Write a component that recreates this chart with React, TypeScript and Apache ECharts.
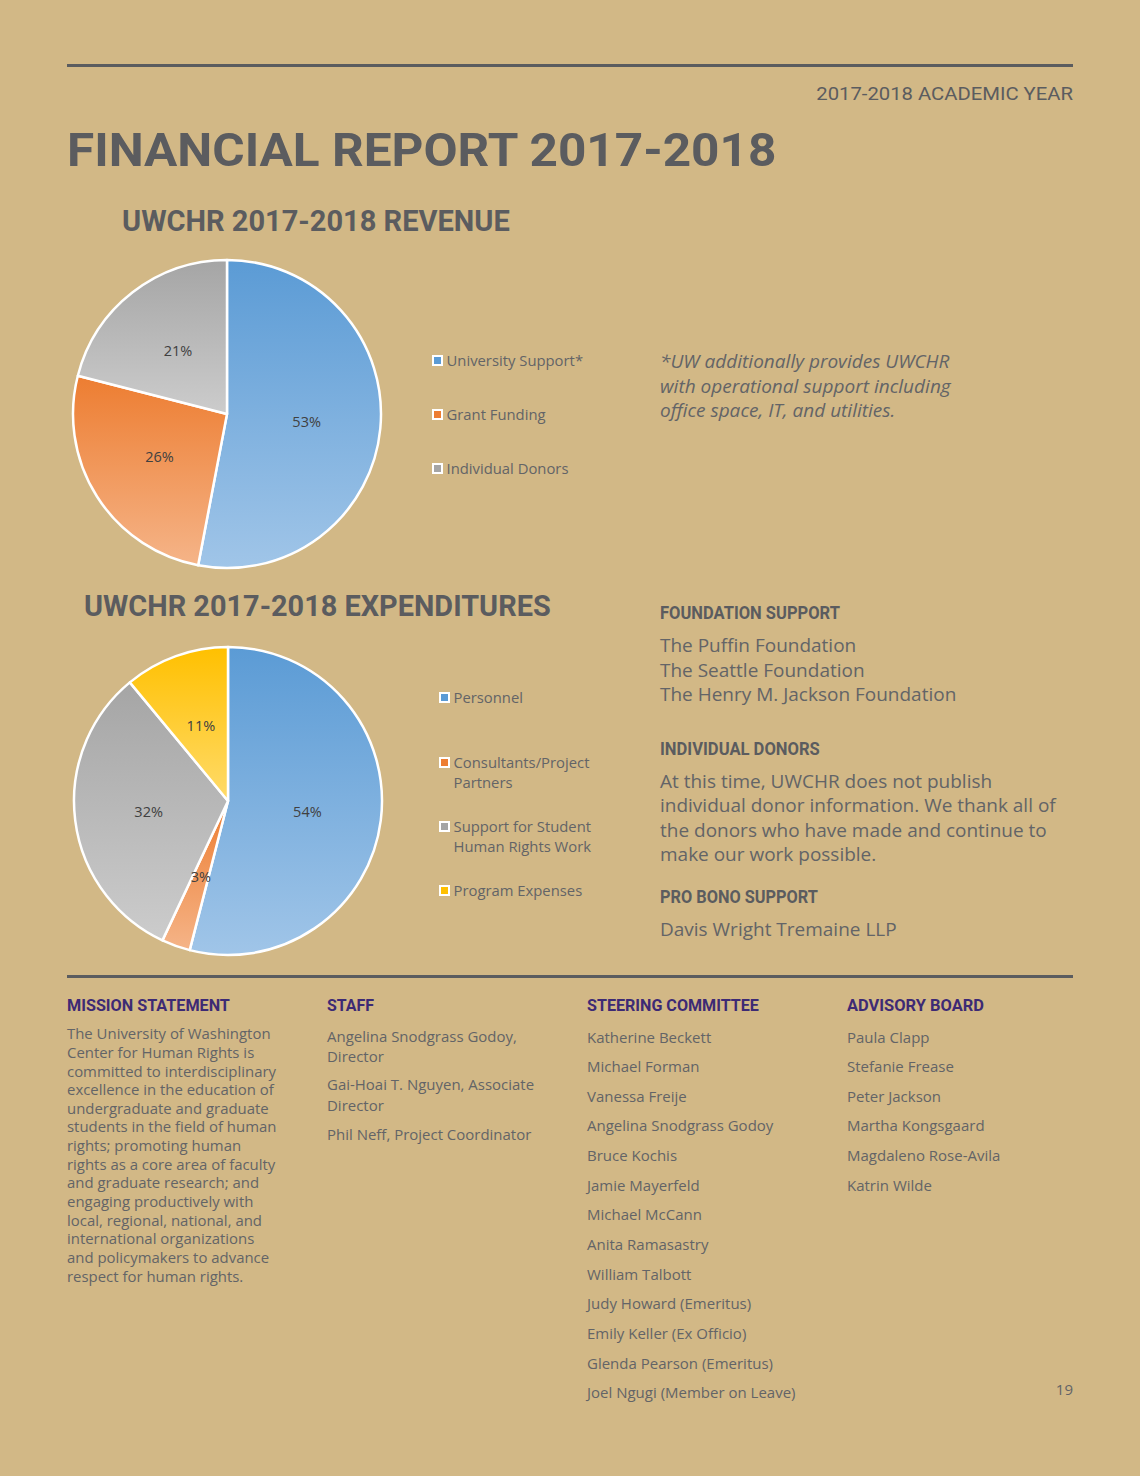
import React, { useEffect, useRef } from 'react';
import * as echarts from 'echarts';

const W = 1140;
const H = 1476;
const BG = '#d2b886';
const HEAD = '#5b5c5f';
const BODY = '#636467';
const PURPLE = '#3d2a74';
const LABEL = '#404040';

const revenueCategories = ['University Support*', 'Grant Funding', 'Individual Donors'];
const revenueValues = [53, 26, 21];
const revenueColors = [
  ['#5b9bd5', '#a0c5e8'],
  ['#ed7d31', '#f5b488'],
  ['#a5a5a5', '#cccccc'],
];

const expenditureCategories = ['Personnel', 'Consultants/Project\nPartners', 'Support for Student\nHuman Rights Work', 'Program Expenses'];
const expenditureValues = [54, 3, 32, 11];
const expenditureColors = [
  ['#5b9bd5', '#a0c5e8'],
  ['#ed7d31', '#f5b488'],
  ['#a5a5a5', '#cccccc'],
  ['#ffc000', '#ffdb6a'],
];

const footnoteLines = ['*UW additionally provides UWCHR', 'with operational support including', 'office space, IT, and utilities.'];
const foundationLines = ['The Puffin Foundation', 'The Seattle Foundation', 'The Henry M. Jackson Foundation'];
const donorLines = ['At this time, UWCHR does not publish', 'individual donor information. We thank all of', 'the donors who have made and continue to', 'make our work possible.'];
const proBonoLines = ['Davis Wright Tremaine LLP'];
const missionLines = [
  'The University of Washington',
  'Center for Human Rights is',
  'committed to interdisciplinary',
  'excellence in the education of',
  'undergraduate and graduate',
  'students in the field of human',
  'rights; promoting human',
  'rights as a core area of faculty',
  'and graduate research; and',
  'engaging productively with',
  'local, regional, national, and',
  'international organizations',
  'and policymakers to advance',
  'respect for human rights.',
];
const staffEntries = ['Angelina Snodgrass Godoy,\nDirector', 'Gai-Hoai T. Nguyen, Associate\nDirector', 'Phil Neff, Project Coordinator'];
const steeringNames = [
  'Katherine Beckett', 'Michael Forman', 'Vanessa Freije', 'Angelina Snodgrass Godoy', 'Bruce Kochis',
  'Jamie Mayerfeld', 'Michael McCann', 'Anita Ramasastry', 'William Talbott', 'Judy Howard (Emeritus)',
  'Emily Keller (Ex Officio)', 'Glenda Pearson (Emeritus)', 'Joel Ngugi (Member on Leave)',
];
const advisoryNames = ['Paula Clapp', 'Stefanie Frease', 'Peter Jackson', 'Martha Kongsgaard', 'Magdaleno Rose-Avila', 'Katrin Wilde'];

let measureCtx: CanvasRenderingContext2D | null = null;
function measure(text: string, font: string): number {
  if (!measureCtx) measureCtx = document.createElement('canvas').getContext('2d');
  measureCtx!.font = font;
  return measureCtx!.measureText(text).width;
}

function fitText(text: string, x: number, y: number, size: number, width: number, fill: string, weight = 'bold', align = 'left') {
  const font = `${weight} ${size}px Roboto`;
  const sx = width / measure(text, font);
  return {
    type: 'text',
    x,
    y,
    scaleX: sx,
    silent: true,
    style: { text, font, fill, align, textAlign: align, verticalAlign: 'middle', textVerticalAlign: 'middle' },
  };
}

function bodyText(text: string, x: number, y: number, size: number, fill: string, sx = 1, italic = false) {
  return {
    type: 'text',
    x,
    y,
    scaleX: sx,
    silent: true,
    style: {
      text,
      fontFamily: 'Open Sans',
      fontSize: size,
      fontStyle: italic ? 'italic' : 'normal',
      fill,
      align: 'left',
      textAlign: 'left',
      verticalAlign: 'middle',
      textVerticalAlign: 'middle',
    },
  };
}

function grad(c: string[]) {
  return new echarts.graphic.LinearGradient(0, 0, 0, 1, [
    { offset: 0, color: c[0] },
    { offset: 1, color: c[1] },
  ]);
}

function legendItems(names: string[], colors: string[][], x: number, ys: number[]) {
  const out: any[] = [];
  names.forEach((n, i) => {
    const firstLineY = ys[i];
    out.push({
      type: 'rect',
      x: x,
      y: firstLineY - 5,
      silent: true,
      shape: { x: 0, y: 0, width: 9, height: 9 },
      style: { fill: colors[i][0], stroke: '#ffffff', lineWidth: 2 },
    });
    const lines = n.split('\n');
    lines.forEach((ln, j) => {
      out.push(bodyText(ln, x + 13.5, firstLineY + j * 20, 14, BODY, 1.06));
    });
  });
  return out;
}

export default function App() {
  const ref = useRef<HTMLDivElement>(null);

  useEffect(() => {
    document.body.style.margin = '0';
    const chart = echarts.init(ref.current!, null, { renderer: 'svg' });

    const pieCommon = {
      type: 'pie',
      startAngle: 90,
      clockwise: true,
      silent: true,
      itemStyle: { borderColor: '#ffffff', borderWidth: 2.5 },
      label: { show: true, position: 'inside', formatter: '{c}%', color: LABEL, fontSize: 14.5, fontFamily: 'Open Sans' },
      labelLine: { show: false },
      emphasis: { disabled: true },
    };

    const graphics: any[] = [];
    // rules
    graphics.push({ type: 'rect', silent: true, shape: { x: 67, y: 64, width: 1006, height: 3 }, style: { fill: HEAD } });
    graphics.push({ type: 'rect', silent: true, shape: { x: 67, y: 975, width: 1006, height: 3 }, style: { fill: HEAD } });

    // headers
    graphics.push(fitText('2017-2018 ACADEMIC YEAR', 1073, 94, 19, 257, HEAD, 'normal', 'right'));
    graphics.push(fitText('FINANCIAL REPORT 2017-2018', 67, 150, 47, 711, HEAD, 'bold'));
    graphics.push(fitText('UWCHR 2017-2018 REVENUE', 122, 221, 29, 388, HEAD, 'bold'));
    graphics.push(fitText('UWCHR 2017-2018 EXPENDITURES', 84, 606, 29, 467, HEAD, 'bold'));

    // legends
    graphics.push(...legendItems(revenueCategories, revenueColors, 433, [361, 415, 469]));
    graphics.push(...legendItems(expenditureCategories, expenditureColors, 440, [698, 763, 827, 891]));

    // footnote
    footnoteLines.forEach((t, i) => graphics.push(bodyText(t, 660, 361 + i * 24.3, 18, BODY, 1.058, true)));

    // right column
    graphics.push(fitText('FOUNDATION SUPPORT', 660, 613, 18, 180, HEAD, 'bold'));
    foundationLines.forEach((t, i) => graphics.push(bodyText(t, 660, 645 + i * 24.5, 18, BODY, 1.055)));
    graphics.push(fitText('INDIVIDUAL DONORS', 660, 749, 18, 160, HEAD, 'bold'));
    donorLines.forEach((t, i) => graphics.push(bodyText(t, 660, 781 + i * 24.2, 18, BODY, 1.055)));
    graphics.push(fitText('PRO BONO SUPPORT', 660, 897, 18, 158, HEAD, 'bold'));
    proBonoLines.forEach((t, i) => graphics.push(bodyText(t, 660, 929 + i * 24.2, 18, BODY, 1.055)));

    // bottom section
    graphics.push(fitText('MISSION STATEMENT', 67, 1005, 17, 163, PURPLE, 'bold'));
    graphics.push(fitText('STAFF', 327, 1005, 17, 47, PURPLE, 'bold'));
    graphics.push(fitText('STEERING COMMITTEE', 587, 1005, 17, 172, PURPLE, 'bold'));
    graphics.push(fitText('ADVISORY BOARD', 847, 1005, 17, 137, PURPLE, 'bold'));

    missionLines.forEach((t, i) => graphics.push(bodyText(t, 67, 1033.3 + i * 18.65, 14.5, BODY, 1.03)));
    const staffY = [1036, 1084.5, 1134];
    staffEntries.forEach((t, i) => {
      t.split('\n').forEach((ln, j) => graphics.push(bodyText(ln, 327, staffY[i] + j * 20.5, 14.5, BODY, 1.033)));
    });
    steeringNames.forEach((t, i) => graphics.push(bodyText(t, 587, 1036.7 + i * 29.63, 14.5, BODY, 1.035)));
    advisoryNames.forEach((t, i) => graphics.push(bodyText(t, 847, 1036.7 + i * 29.63, 14.5, BODY, 1.035)));

    graphics.push({
      type: 'text', x: 1073, y: 1389, silent: true,
      style: { text: '19', fontFamily: 'Open Sans', fontSize: 15, fill: BODY, align: 'right', textAlign: 'right', verticalAlign: 'middle', textVerticalAlign: 'middle' },
    });

    chart.setOption({
      animation: false,
      backgroundColor: BG,
      series: [
        {
          ...pieCommon,
          name: 'Revenue',
          center: [227, 414],
          radius: 154,
          data: revenueValues.map((v, i) => ({ value: v, name: revenueCategories[i], itemStyle: { color: grad(revenueColors[i]) } })),
        },
        {
          ...pieCommon,
          name: 'Expenditures',
          center: [228, 801],
          radius: 154,
          data: expenditureValues.map((v, i) => ({ value: v, name: expenditureCategories[i], itemStyle: { color: grad(expenditureColors[i]) } })),
        },
      ],
      graphic: { elements: graphics },
    });

    return () => {
      chart.dispose();
    };
  }, []);

  return <div ref={ref} style={{ width: W, height: H, background: BG }} />;
}
